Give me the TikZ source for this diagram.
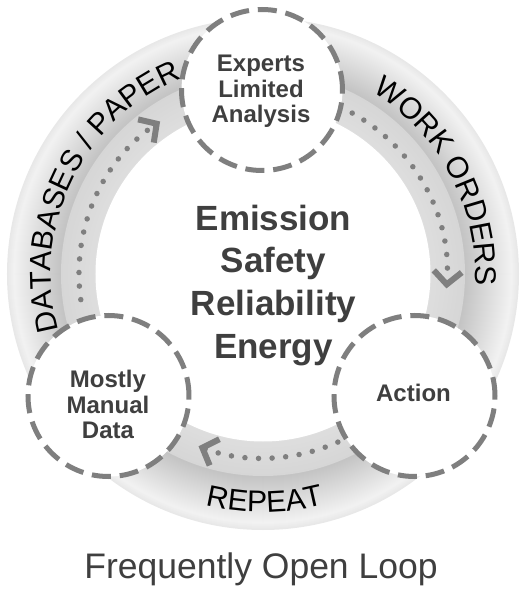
\documentclass[tikz,border=0pt]{standalone}
\usepackage{fontspec}
\setmainfont{Liberation Sans}
\usetikzlibrary{decorations.text,arrows.meta}
\definecolor{dashgray}{HTML}{7F7F7F}
\definecolor{textgray}{HTML}{3F3F3F}
\tikzset{
  stagecirc/.style={circle, minimum size=161pt, inner sep=0pt, fill=white, draw=dashgray, line width=5pt, dash pattern=on 19pt off 8.9pt},
  stagetext/.style={align=center, text=textgray, font=\fontsize{24}{25.5}\selectfont\bfseries, inner sep=0pt},
  flow/.style={draw=dashgray, line width=5.5pt, line cap=round, dash pattern=on 0pt off 13.6pt, -{Straight Barb[length=13pt,width=28pt,line width=6pt]}},
  ringlabel/.style={decorate, decoration={text along path, text align=center, text={|\fontsize{30}{30}\selectfont|#1}}},
}
\begin{document}
\begin{tikzpicture}[x=1pt,y=1pt]
\useasboundingbox (-263,-323) rectangle (267,274);
\coordinate (O) at (0,0);
% ring
\foreach \r in {256,255,...,203}{
  \pgfmathsetmacro\g{\r>=249 ? 5+(\r-249)*0.6 : 5+(249-\r)*18/46}
  \fill[black!\g!white] (O) circle[radius=\r];
}
\foreach \r in {202,201,...,168}{
  \pgfmathsetmacro\g{13+(\r-168)*3/34}
  \fill[black!\g!white] (O) circle[radius=\r];
}
\fill[white] (O) circle[radius=167.5];
% flows
\draw[flow] (188:184) arc[start angle=188, end angle=124, radius=184];
\draw[flow] (61:184) arc[start angle=61, end angle=-4.5, radius=184];
\draw[flow] (294:184) arc[start angle=294, end angle=249.5, radius=184];
% centre text
\node[align=center, text=textgray, font=\fontsize{35}{42.7}\selectfont\bfseries, inner sep=0pt] (goals) at (10.5,-11.2) {Emission\\Safety\\Reliability\\Energy};
% stages
\node[stagecirc] (expert) at (-1,184) {};
\node[stagecirc] (manual) at (-154.5,-122) {};
\node[stagecirc] (action) at (151.5,-122) {};
\node[stagetext] (experttext) at (-2,182.5) {Experts\\Limited\\Analysis};
\node[stagetext] (manualtext) at (-155,-130.5) {Mostly\\Manual\\Data};
\node[stagetext] (actiontext) at (150.5,-119.4) {Action};
% ring labels
\path[ringlabel={DATABASES / PAPER}] (204:212) arc[start angle=204, end angle=104, radius=212];
\path[ringlabel={WORK ORDERS}] (78:212) arc[start angle=78, end angle=-22, radius=212];
\path[ringlabel={REPEAT}] (220.5:238) arc[start angle=220.5, end angle=320.5, radius=238];
% title
\node[anchor=base, text=textgray, font=\fontsize{35.5}{40}\selectfont, inner sep=0pt] (title) at (-2,-304) {Frequently Open Loop};
\end{tikzpicture}
\end{document}
